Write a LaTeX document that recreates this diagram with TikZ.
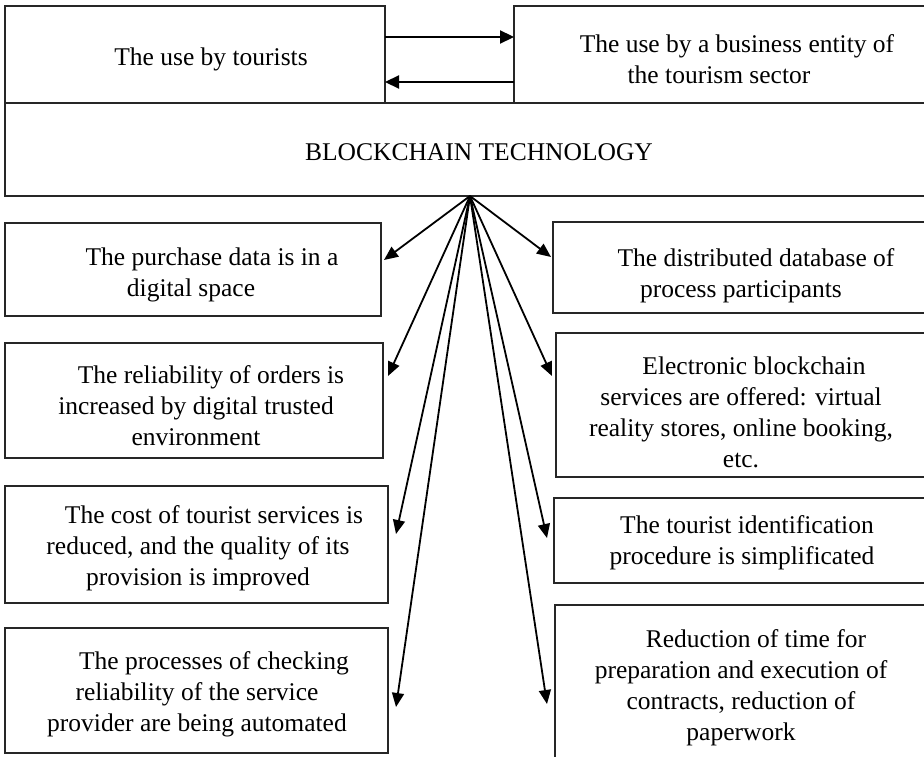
\documentclass[tikz,border=0pt]{standalone}
\usepackage{fontspec}
\setmainfont{Liberation Serif}
\usetikzlibrary{arrows.meta}
\begin{document}
\begin{tikzpicture}[x=1pt,y=-1pt,
  boxnode/.style={draw=black!85,line width=1.8pt,inner sep=0pt,outer sep=0pt,rectangle},
  txt/.style={align=center,inner sep=0pt,font=\fontsize{25.5}{31}\selectfont},
  arr/.style={line width=2.2pt,-{Triangle[length=14pt,width=13pt]}},
  fan/.style={line width=1.8pt,-{Triangle[length=14pt,width=12pt]}}]
\useasboundingbox (0,0) rectangle (924,757);
\newcommand{\boxat}[5]{\node[boxnode,minimum width={#4-#2},minimum height={#5-#3}] (#1) at ({(#2+#4)/2},{(#3+#5)/2}) {};}
% boxes
\boxat{tl}{5}{6}{385}{103}
\boxat{tr}{514}{6}{940}{103}
\boxat{bc}{5}{103}{935}{196}
\boxat{l1}{5}{223}{381}{316}
\boxat{l2}{5}{343}{383}{458}
\boxat{l3}{5}{486}{388}{603}
\boxat{l4}{5}{628}{388}{753}
\boxat{r1}{553}{222}{940}{313}
\boxat{r2}{556}{333}{940}{477}
\boxat{r3}{554}{498}{940}{583}
\boxat{r4}{555}{605}{940}{775}
% texts
\node[txt] (tlt) at (211,59) {The use by tourists};
\node[txt] (trt) at (719,59) {\hspace*{36pt}The use by a business entity of\\the tourism sector};
\node[txt] (bct) at (479,152) {BLOCKCHAIN TECHNOLOGY};
\node[txt] (l1t) at (191,275) {\hspace*{42pt}The purchase data is in a\\digital space};
\node[txt] (l2t) at (196,406) {\hspace*{30pt}The reliability of orders is\\increased by digital trusted\\environment};
\node[txt] (l3t) at (198,548) {\hspace*{32pt}The cost of tourist services is\\reduced, and the quality of its\\provision is improved};
\node[txt] (l4t) at (197,694) {\hspace*{34pt}The processes of checking\\reliability of the service\\provider are being automated};
\node[txt] (r1t) at (741,276) {\hspace*{30pt}The distributed database of\\process participants};
\node[txt] (r2t) at (741,412) {\hspace*{26pt}Electronic blockchain\\services are offered: virtual\\reality stores, online booking,\\etc.};
\node[txt] (r3t) at (742,543) {\hspace*{10pt}The tourist identification\\procedure is simplificated};
\node[txt] (r4t) at (741,688) {\hspace*{30pt}Reduction of time for\\preparation and execution of\\contracts, reduction of\\paperwork};
% top arrows
\draw[arr] ([yshift=17.5pt]tl.east) -- ([yshift=17.5pt]tr.west);
\draw[arr] ([yshift=-27.5pt]tr.west) -- ([yshift=-27.5pt]tl.east);
% fan arrows
\coordinate (apex) at (bc.south);
\coordinate (e1) at (384,260);
\coordinate (e2) at (388,376);
\coordinate (e3) at (396,534);
\coordinate (e4) at (396,707);
\coordinate (f1) at (551,257);
\coordinate (f2) at (552,376);
\coordinate (f3) at (547,538);
\coordinate (f4) at (547,704);
\foreach \t in {e1,e2,e3,e4,f1,f2,f3,f4}{\draw[fan] (apex) -- (\t);}
\end{tikzpicture}
\end{document}
